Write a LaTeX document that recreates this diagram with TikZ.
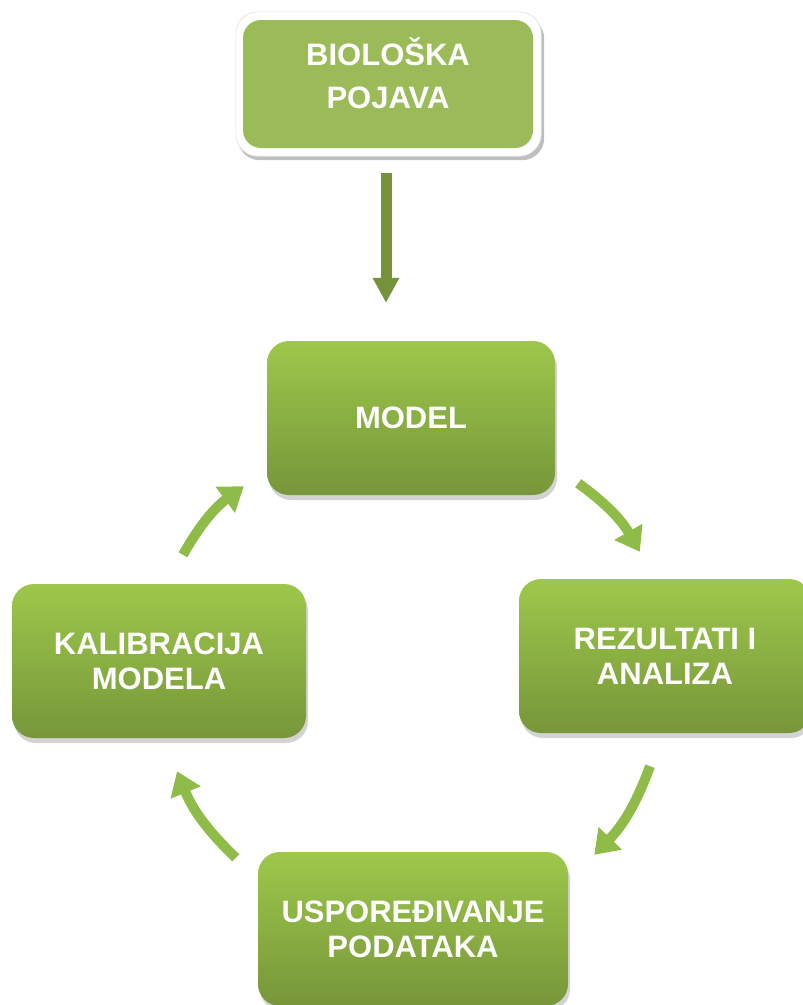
\documentclass[tikz,border=0pt]{standalone}
\usepackage{fontspec}
\setmainfont{Liberation Sans}
\usetikzlibrary{arrows.meta,shadows,backgrounds}
\definecolor{gtop}{HTML}{9DC84B}
\definecolor{gbot}{HTML}{77963A}
\definecolor{olive}{HTML}{9BBB59}
\definecolor{darkolive}{HTML}{76923C}
\definecolor{garrow}{HTML}{8FBC48}
\begin{document}
\begin{tikzpicture}[x=1pt,y=-1pt,
  boxtext/.style={text=white, font=\fontsize{31}{35}\selectfont\bfseries, align=center, inner sep=0pt},
  stepbox/.style={boxtext, rounded corners=22pt, top color=gtop, bottom color=gbot, draw=none,
    drop shadow={opacity=0.35, shadow xshift=2pt, shadow yshift=-5pt},
    minimum height=154pt},
  topbox/.style={rounded corners=18pt, fill=olive, draw=none, minimum width=290pt, minimum height=128pt, inner sep=0pt},
  cyc/.style={draw=garrow, line width=10pt, -{Triangle[width=31pt,length=23pt]}},
  down/.style={draw=darkolive, line width=11pt, -{Triangle[width=25pt,length=25pt]}}
]
\useasboundingbox (0,0) rectangle (803,1005);
\clip (0,0) rectangle (803,1005);

\node[topbox] (top) at (388,84) {};
\node[boxtext, font=\fontsize{31}{43}\selectfont\bfseries] (toptext) at ([yshift=11pt]top.center) {BIOLOŠKA\\POJAVA};
\begin{scope}[on background layer]
  \fill[black!25, rounded corners=22pt] ([shift={(-5,-3)}]top.north west) rectangle ([shift={(11,12)}]top.south east);
  \fill[white, draw=black!12, line width=0.6pt, rounded corners=22pt] ([shift={(-7,-8)}]top.north west) rectangle ([shift={(8,8)}]top.south east);
\end{scope}

\node[stepbox, minimum width=288pt] (model) at (411,418) {MODEL};
\node[stepbox, minimum width=292pt] (rez) at (665,656) {REZULTATI I\\ANALIZA};
\node[stepbox, minimum width=294pt] (kal) at (159,661) {KALIBRACIJA\\MODELA};
\node[stepbox, minimum width=310pt] (usp) at (413,929) {USPOREĐIVANJE\\PODATAKA};

\draw[down] ([shift={(-2,25)}]top.south) -- ([shift={(-25,-38)}]model.north);

\draw[cyc] ([shift={(23,-12)}]model.south east) to[bend left=12] ([shift={(121,-27)}]rez.north west);
\draw[cyc] ([shift={(-15,33)}]rez.south) to[bend left=12] ([shift={(26,3)}]usp.north east);
\draw[cyc] ([shift={(-22,6)}]usp.north west) to[bend left=12] ([shift={(18,33)}]kal.south);
\draw[cyc] ([shift={(24,-29)}]kal.north) to[bend left=12] ([shift={(-23,-9)}]model.south west);
\end{tikzpicture}
\end{document}
